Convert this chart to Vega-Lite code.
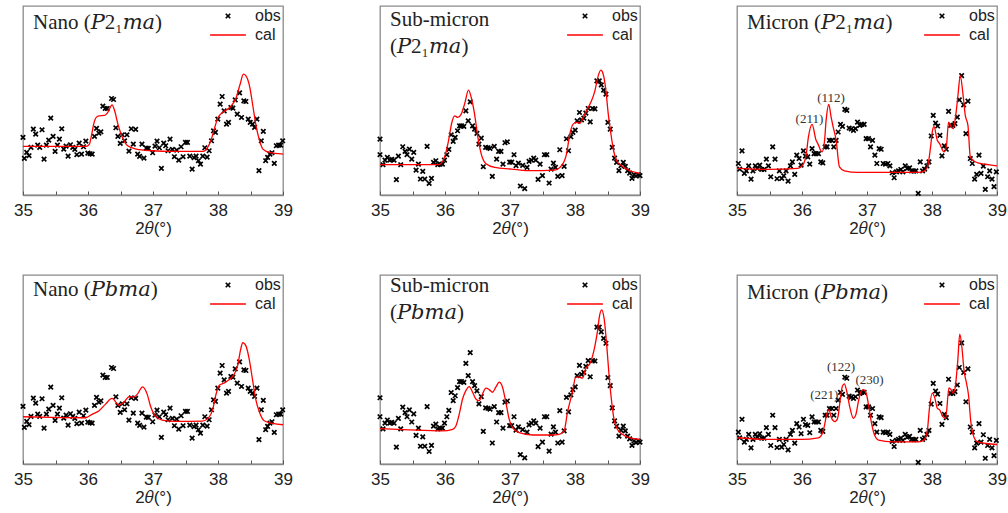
{
"$schema": "https://vega.github.io/schema/vega-lite/v6.json",
"background": "white",
"padding": {"left": 12, "top": 5, "right": 5, "bottom": 5},
"config": {
 "view": {"stroke": "#8a8a8a", "strokeWidth": 1.3},
 "font": "Liberation Sans",
 "axisX": {"tickSize": -4, "tickColor": "#555", "domainColor": "#8a8a8a", "domainWidth": 1.3, "labelFont": "Liberation Sans", "labelFontSize": 17, "labelColor": "#222", "labelPadding": 11, "titleFont": "Liberation Sans", "titleFontSize": 17, "titleFontWeight": "normal", "titleColor": "#222", "titlePadding": 2, "grid": false, "labelFlush": false, "labelOverlap": false},
 "legend": {"orient": "top-right", "offset": 2, "padding": 0, "labelFont": "Liberation Sans", "labelFontSize": 16, "labelColor": "#222", "rowPadding": 4, "symbolSize": 20, "symbolStrokeWidth": 1.7, "labelOffset": 19, "layout": {"direction": "vertical", "margin": 3, "top-right": {"direction": "vertical", "margin": 3}}},
 "title": {"anchor": "start", "frame": "group", "font": "Liberation Serif, DejaVu Serif", "fontSize": 21, "fontWeight": "normal", "color": "#222", "dx": 10, "lineHeight": 27}
},
"datasets": {
 "obsNano": [{"t":35.000,"I":173},{"t":35.021,"I":110},{"t":35.057,"I":128},{"t":35.093,"I":118},{"t":35.123,"I":143},{"t":35.159,"I":198},{"t":35.195,"I":183},{"t":35.226,"I":150},{"t":35.257,"I":143},{"t":35.293,"I":196},{"t":35.324,"I":108},{"t":35.360,"I":150},{"t":35.396,"I":165},{"t":35.427,"I":231},{"t":35.463,"I":176},{"t":35.494,"I":131},{"t":35.530,"I":150},{"t":35.560,"I":168},{"t":35.596,"I":199},{"t":35.627,"I":138},{"t":35.663,"I":147},{"t":35.694,"I":117},{"t":35.730,"I":151},{"t":35.766,"I":143},{"t":35.797,"I":137},{"t":35.828,"I":121},{"t":35.864,"I":156},{"t":35.900,"I":123},{"t":35.931,"I":145},{"t":35.967,"I":162},{"t":35.997,"I":126},{"t":36.033,"I":124},{"t":36.064,"I":123},{"t":36.100,"I":176},{"t":36.131,"I":200},{"t":36.167,"I":186},{"t":36.198,"I":190},{"t":36.229,"I":267},{"t":36.265,"I":260},{"t":36.296,"I":260},{"t":36.362,"I":290},{"t":36.393,"I":287},{"t":36.429,"I":202},{"t":36.460,"I":176},{"t":36.496,"I":155},{"t":36.527,"I":181},{"t":36.563,"I":163},{"t":36.599,"I":181},{"t":36.630,"I":132},{"t":36.666,"I":199},{"t":36.697,"I":153},{"t":36.733,"I":197},{"t":36.764,"I":123},{"t":36.794,"I":116},{"t":36.830,"I":153},{"t":36.861,"I":111},{"t":36.897,"I":141},{"t":36.928,"I":140},{"t":36.995,"I":127},{"t":37.031,"I":147},{"t":37.062,"I":162},{"t":37.098,"I":142},{"t":37.129,"I":80},{"t":37.165,"I":156},{"t":37.195,"I":148},{"t":37.231,"I":133},{"t":37.262,"I":168},{"t":37.298,"I":137},{"t":37.329,"I":115},{"t":37.365,"I":135},{"t":37.396,"I":105},{"t":37.432,"I":145},{"t":37.463,"I":115},{"t":37.499,"I":158},{"t":37.530,"I":158},{"t":37.566,"I":117},{"t":37.602,"I":78},{"t":37.632,"I":112},{"t":37.663,"I":117},{"t":37.699,"I":103},{"t":37.730,"I":93},{"t":37.766,"I":117},{"t":37.797,"I":142},{"t":37.833,"I":114},{"t":37.864,"I":133},{"t":37.900,"I":163},{"t":37.931,"I":193},{"t":37.961,"I":188},{"t":37.997,"I":228},{"t":38.033,"I":273},{"t":38.064,"I":296},{"t":38.095,"I":253},{"t":38.131,"I":213},{"t":38.162,"I":218},{"t":38.198,"I":263},{"t":38.229,"I":261},{"t":38.265,"I":286},{"t":38.296,"I":243},{"t":38.332,"I":307},{"t":38.362,"I":233},{"t":38.398,"I":283},{"t":38.429,"I":281},{"t":38.465,"I":228},{"t":38.496,"I":218},{"t":38.532,"I":213},{"t":38.563,"I":203},{"t":38.599,"I":228},{"t":38.630,"I":73},{"t":38.666,"I":163},{"t":38.697,"I":191},{"t":38.733,"I":103},{"t":38.763,"I":113},{"t":38.799,"I":123},{"t":38.830,"I":127},{"t":38.866,"I":95},{"t":38.897,"I":148},{"t":38.933,"I":150},{"t":38.964,"I":150},{"t":38.995,"I":163}],
 "obsSub": [{"t":35.000,"I":168},{"t":35.000,"I":121},{"t":35.046,"I":91},{"t":35.077,"I":105},{"t":35.113,"I":113},{"t":35.149,"I":105},{"t":35.180,"I":107},{"t":35.216,"I":105},{"t":35.252,"I":46},{"t":35.283,"I":117},{"t":35.319,"I":91},{"t":35.350,"I":145},{"t":35.386,"I":131},{"t":35.416,"I":121},{"t":35.452,"I":138},{"t":35.488,"I":108},{"t":35.519,"I":128},{"t":35.555,"I":75},{"t":35.591,"I":93},{"t":35.622,"I":48},{"t":35.658,"I":71},{"t":35.689,"I":48},{"t":35.725,"I":146},{"t":35.756,"I":35},{"t":35.792,"I":50},{"t":35.823,"I":98},{"t":35.859,"I":103},{"t":35.889,"I":91},{"t":35.925,"I":93},{"t":35.961,"I":93},{"t":35.992,"I":105},{"t":36.028,"I":121},{"t":36.059,"I":137},{"t":36.095,"I":181},{"t":36.126,"I":161},{"t":36.157,"I":173},{"t":36.193,"I":193},{"t":36.224,"I":208},{"t":36.254,"I":208},{"t":36.290,"I":206},{"t":36.321,"I":253},{"t":36.357,"I":223},{"t":36.388,"I":280},{"t":36.424,"I":208},{"t":36.455,"I":198},{"t":36.491,"I":185},{"t":36.522,"I":153},{"t":36.558,"I":171},{"t":36.589,"I":85},{"t":36.625,"I":143},{"t":36.661,"I":142},{"t":36.692,"I":140},{"t":36.728,"I":56},{"t":36.758,"I":146},{"t":36.794,"I":108},{"t":36.825,"I":131},{"t":36.861,"I":131},{"t":36.892,"I":93},{"t":36.923,"I":157},{"t":36.959,"I":160},{"t":36.995,"I":99},{"t":37.026,"I":99},{"t":37.062,"I":121},{"t":37.093,"I":88},{"t":37.129,"I":96},{"t":37.159,"I":27},{"t":37.195,"I":89},{"t":37.226,"I":19},{"t":37.262,"I":83},{"t":37.293,"I":101},{"t":37.329,"I":105},{"t":37.365,"I":111},{"t":37.396,"I":105},{"t":37.432,"I":47},{"t":37.463,"I":93},{"t":37.499,"I":58},{"t":37.530,"I":121},{"t":37.566,"I":121},{"t":37.602,"I":36},{"t":37.632,"I":78},{"t":37.668,"I":96},{"t":37.699,"I":83},{"t":37.735,"I":56},{"t":37.766,"I":136},{"t":37.802,"I":58},{"t":37.833,"I":86},{"t":37.869,"I":169},{"t":37.900,"I":133},{"t":37.936,"I":175},{"t":37.967,"I":188},{"t":38.003,"I":195},{"t":38.033,"I":223},{"t":38.069,"I":248},{"t":38.100,"I":226},{"t":38.136,"I":231},{"t":38.167,"I":246},{"t":38.203,"I":260},{"t":38.234,"I":220},{"t":38.270,"I":260},{"t":38.306,"I":259},{"t":38.337,"I":343},{"t":38.373,"I":343},{"t":38.404,"I":331},{"t":38.440,"I":315},{"t":38.476,"I":303},{"t":38.506,"I":218},{"t":38.542,"I":198},{"t":38.573,"I":143},{"t":38.609,"I":111},{"t":38.640,"I":98},{"t":38.676,"I":73},{"t":38.707,"I":88},{"t":38.743,"I":98},{"t":38.774,"I":86},{"t":38.810,"I":73},{"t":38.841,"I":66},{"t":38.877,"I":50},{"t":38.907,"I":61},{"t":38.938,"I":57},{"t":38.974,"I":61},{"t":39.000,"I":58}],
 "obsMic": [{"t":35.021,"I":95},{"t":35.041,"I":78},{"t":35.077,"I":133},{"t":35.113,"I":65},{"t":35.144,"I":73},{"t":35.180,"I":88},{"t":35.216,"I":48},{"t":35.246,"I":73},{"t":35.282,"I":88},{"t":35.313,"I":80},{"t":35.349,"I":90},{"t":35.380,"I":77},{"t":35.416,"I":77},{"t":35.452,"I":108},{"t":35.483,"I":88},{"t":35.519,"I":55},{"t":35.549,"I":145},{"t":35.585,"I":108},{"t":35.616,"I":49},{"t":35.652,"I":73},{"t":35.688,"I":50},{"t":35.719,"I":58},{"t":35.755,"I":73},{"t":35.786,"I":42},{"t":35.822,"I":88},{"t":35.852,"I":100},{"t":35.888,"I":62},{"t":35.919,"I":120},{"t":35.955,"I":110},{"t":35.986,"I":90},{"t":36.022,"I":133},{"t":36.053,"I":117},{"t":36.089,"I":115},{"t":36.119,"I":93},{"t":36.155,"I":140},{"t":36.186,"I":125},{"t":36.217,"I":125},{"t":36.253,"I":125},{"t":36.289,"I":100},{"t":36.320,"I":97},{"t":36.356,"I":145},{"t":36.386,"I":145},{"t":36.422,"I":165},{"t":36.458,"I":165},{"t":36.489,"I":145},{"t":36.525,"I":165},{"t":36.556,"I":190},{"t":36.592,"I":213},{"t":36.623,"I":207},{"t":36.659,"I":258},{"t":36.689,"I":255},{"t":36.725,"I":202},{"t":36.756,"I":199},{"t":36.792,"I":195},{"t":36.823,"I":200},{"t":36.854,"I":220},{"t":36.890,"I":210},{"t":36.920,"I":213},{"t":36.956,"I":213},{"t":36.987,"I":170},{"t":37.023,"I":170},{"t":37.054,"I":145},{"t":37.085,"I":165},{"t":37.121,"I":120},{"t":37.151,"I":95},{"t":37.187,"I":140},{"t":37.218,"I":138},{"t":37.249,"I":95},{"t":37.285,"I":93},{"t":37.321,"I":95},{"t":37.352,"I":88},{"t":37.388,"I":67},{"t":37.418,"I":52},{"t":37.454,"I":70},{"t":37.485,"I":73},{"t":37.521,"I":77},{"t":37.552,"I":70},{"t":37.588,"I":88},{"t":37.619,"I":80},{"t":37.655,"I":82},{"t":37.685,"I":73},{"t":37.721,"I":72},{"t":37.752,"I":73},{"t":37.788,"I":5},{"t":37.819,"I":100},{"t":37.855,"I":73},{"t":37.886,"I":78},{"t":37.922,"I":88},{"t":37.953,"I":100},{"t":37.988,"I":178},{"t":38.019,"I":240},{"t":38.055,"I":217},{"t":38.086,"I":208},{"t":38.122,"I":180},{"t":38.153,"I":118},{"t":38.189,"I":148},{"t":38.220,"I":138},{"t":38.255,"I":252},{"t":38.286,"I":210},{"t":38.322,"I":210},{"t":38.353,"I":215},{"t":38.389,"I":235},{"t":38.420,"I":287},{"t":38.456,"I":360},{"t":38.487,"I":272},{"t":38.522,"I":185},{"t":38.553,"I":283},{"t":38.589,"I":110},{"t":38.620,"I":95},{"t":38.656,"I":48},{"t":38.687,"I":62},{"t":38.723,"I":120},{"t":38.754,"I":65},{"t":38.790,"I":87},{"t":38.820,"I":17},{"t":38.856,"I":55},{"t":38.887,"I":73},{"t":38.923,"I":48},{"t":38.954,"I":25},{"t":38.990,"I":70}],
 "calNanoP": [{"t":35.0,"I":146},{"t":35.5,"I":146},{"t":35.97,"I":146},{"t":36.02,"I":152},{"t":36.05,"I":175},{"t":36.09,"I":215},{"t":36.13,"I":234},{"t":36.17,"I":238},{"t":36.25,"I":239},{"t":36.31,"I":250},{"t":36.37,"I":271},{"t":36.41,"I":253},{"t":36.46,"I":213},{"t":36.53,"I":173},{"t":36.61,"I":148},{"t":36.74,"I":138},{"t":37.0,"I":133},{"t":37.25,"I":131},{"t":37.77,"I":131},{"t":37.84,"I":143},{"t":37.89,"I":163},{"t":37.95,"I":203},{"t":38.0,"I":233},{"t":38.07,"I":248},{"t":38.18,"I":263},{"t":38.28,"I":293},{"t":38.34,"I":333},{"t":38.39,"I":363},{"t":38.43,"I":358},{"t":38.49,"I":323},{"t":38.54,"I":263},{"t":38.59,"I":203},{"t":38.64,"I":163},{"t":38.69,"I":138},{"t":38.79,"I":128},{"t":39.0,"I":123}],
 "calNanoB": [{"t":35.0,"I":142},{"t":35.45,"I":140},{"t":35.96,"I":139},{"t":36.07,"I":150},{"t":36.17,"I":160},{"t":36.27,"I":180},{"t":36.37,"I":197},{"t":36.48,"I":177},{"t":36.55,"I":185},{"t":36.63,"I":202},{"t":36.71,"I":202},{"t":36.76,"I":210},{"t":36.84,"I":232},{"t":36.91,"I":210},{"t":36.96,"I":175},{"t":37.04,"I":143},{"t":37.14,"I":132},{"t":37.35,"I":128},{"t":37.76,"I":129},{"t":37.86,"I":140},{"t":37.92,"I":165},{"t":37.97,"I":210},{"t":38.02,"I":237},{"t":38.09,"I":243},{"t":38.17,"I":253},{"t":38.25,"I":270},{"t":38.30,"I":295},{"t":38.35,"I":345},{"t":38.38,"I":365},{"t":38.43,"I":355},{"t":38.48,"I":315},{"t":38.53,"I":255},{"t":38.58,"I":195},{"t":38.63,"I":160},{"t":38.71,"I":130},{"t":38.84,"I":122},{"t":39.0,"I":118}],
 "calSubP": [{"t":35.0,"I":91},{"t":35.478,"I":91},{"t":35.889,"I":91},{"t":35.941,"I":95},{"t":35.992,"I":113},{"t":36.054,"I":163},{"t":36.105,"I":218},{"t":36.147,"I":238},{"t":36.198,"I":233},{"t":36.249,"I":243},{"t":36.301,"I":273},{"t":36.362,"I":315},{"t":36.404,"I":293},{"t":36.455,"I":243},{"t":36.506,"I":173},{"t":36.558,"I":123},{"t":36.635,"I":93},{"t":36.763,"I":83},{"t":37.021,"I":78},{"t":37.278,"I":73},{"t":37.689,"I":75},{"t":37.792,"I":88},{"t":37.869,"I":123},{"t":37.920,"I":183},{"t":37.972,"I":213},{"t":38.023,"I":218},{"t":38.075,"I":215},{"t":38.126,"I":233},{"t":38.203,"I":263},{"t":38.254,"I":283},{"t":38.306,"I":313},{"t":38.357,"I":358},{"t":38.398,"I":375},{"t":38.434,"I":363},{"t":38.476,"I":313},{"t":38.512,"I":243},{"t":38.553,"I":183},{"t":38.594,"I":133},{"t":38.640,"I":103},{"t":38.717,"I":88},{"t":38.820,"I":75},{"t":39.0,"I":65}],
 "calSubB": [{"t":35.0,"I":91.7},{"t":35.451,"I":88.3},{"t":35.963,"I":85.8},{"t":36.117,"I":90},{"t":36.168,"I":98.3},{"t":36.219,"I":127.5},{"t":36.270,"I":165},{"t":36.321,"I":185.8},{"t":36.373,"I":195.8},{"t":36.424,"I":181.7},{"t":36.475,"I":165},{"t":36.526,"I":160.8},{"t":36.577,"I":177.5},{"t":36.629,"I":191.7},{"t":36.680,"I":188.3},{"t":36.731,"I":181.7},{"t":36.782,"I":194.2},{"t":36.834,"I":206.7},{"t":36.885,"I":194.2},{"t":36.936,"I":156.7},{"t":36.987,"I":115},{"t":37.038,"I":94.2},{"t":37.141,"I":81.7},{"t":37.346,"I":75.8},{"t":37.653,"I":75.8},{"t":37.755,"I":77.5},{"t":37.832,"I":85.8},{"t":37.884,"I":131.7},{"t":37.960,"I":181.7},{"t":38.012,"I":219.2},{"t":38.063,"I":219.2},{"t":38.114,"I":216.7},{"t":38.165,"I":240},{"t":38.242,"I":256.7},{"t":38.293,"I":285.8},{"t":38.345,"I":331.7},{"t":38.380,"I":373.3},{"t":38.411,"I":385.8},{"t":38.447,"I":365},{"t":38.488,"I":298.3},{"t":38.524,"I":223.3},{"t":38.565,"I":156.7},{"t":38.600,"I":115},{"t":38.652,"I":90},{"t":38.729,"I":77.5},{"t":38.831,"I":69.2},{"t":39.0,"I":65}],
 "calMicP": [{"t":35.0,"I":80},{"t":35.472,"I":77},{"t":35.935,"I":80},{"t":36.012,"I":90},{"t":36.063,"I":120},{"t":36.099,"I":175},{"t":36.155,"I":213},{"t":36.217,"I":165},{"t":36.243,"I":155},{"t":36.309,"I":130},{"t":36.345,"I":160},{"t":36.371,"I":225},{"t":36.412,"I":273},{"t":36.448,"I":235},{"t":36.474,"I":210},{"t":36.525,"I":165},{"t":36.576,"I":85},{"t":36.653,"I":73},{"t":36.859,"I":68},{"t":37.270,"I":68},{"t":37.783,"I":68},{"t":37.886,"I":73},{"t":37.937,"I":90},{"t":37.978,"I":145},{"t":38.004,"I":190},{"t":38.030,"I":207},{"t":38.081,"I":165},{"t":38.117,"I":155},{"t":38.184,"I":130},{"t":38.220,"I":145},{"t":38.255,"I":220},{"t":38.297,"I":205},{"t":38.327,"I":200},{"t":38.368,"I":245},{"t":38.399,"I":300},{"t":38.435,"I":360},{"t":38.476,"I":305},{"t":38.512,"I":240},{"t":38.553,"I":210},{"t":38.589,"I":115},{"t":38.630,"I":105},{"t":38.707,"I":97},{"t":38.810,"I":93},{"t":39.0,"I":88}],
 "calMicB": [{"t":35.0,"I":78},{"t":35.475,"I":73},{"t":35.991,"I":73},{"t":36.249,"I":78},{"t":36.301,"I":86},{"t":36.342,"I":111},{"t":36.378,"I":146},{"t":36.414,"I":161},{"t":36.455,"I":136},{"t":36.507,"I":126},{"t":36.548,"I":136},{"t":36.585,"I":186},{"t":36.621,"I":231},{"t":36.652,"I":238},{"t":36.688,"I":216},{"t":36.739,"I":166},{"t":36.791,"I":136},{"t":36.827,"I":146},{"t":36.868,"I":186},{"t":36.910,"I":216},{"t":36.946,"I":221},{"t":36.987,"I":211},{"t":37.023,"I":176},{"t":37.065,"I":126},{"t":37.116,"I":86},{"t":37.178,"I":71},{"t":37.385,"I":66},{"t":37.797,"I":66},{"t":37.875,"I":71},{"t":37.926,"I":96},{"t":37.961,"I":166},{"t":38.003,"I":211},{"t":38.044,"I":196},{"t":38.081,"I":166},{"t":38.117,"I":161},{"t":38.168,"I":141},{"t":38.210,"I":136},{"t":38.261,"I":226},{"t":38.293,"I":221},{"t":38.324,"I":211},{"t":38.355,"I":226},{"t":38.396,"I":306},{"t":38.427,"I":386},{"t":38.458,"I":351},{"t":38.494,"I":276},{"t":38.530,"I":241},{"t":38.561,"I":206},{"t":38.597,"I":126},{"t":38.634,"I":86},{"t":38.701,"I":66},{"t":38.830,"I":61},{"t":39.0,"I":58}],
 "annMicP": [{"t":36.114,"I":230,"label":"(211)"},{"t":36.448,"I":292,"label":"(112)"}],
 "annMicB": [{"t":36.342,"I":206,"label":"(221)"},{"t":36.600,"I":288,"label":"(122)"},{"t":37.039,"I":251,"label":"(230)"}]
},
"columns": 3,
"spacing": {"row": 80, "column": 97},
"bounds": "flush",
"resolve": {"scale": {"y": "independent", "color": "independent", "stroke": "independent"}, "legend": {"color": "independent", "stroke": "independent"}},
"concat": [
 {"width": 260, "height": 189, "title": {"text": "Nano (𝑃2₁𝑚𝑎)", "offset": -27},
  "encoding": {"x": {"field": "t", "type": "quantitative", "scale": {"domain": [35, 39], "nice": false}, "axis": {"values": [35,35.5,36,36.5,37,37.5,38,38.5,39], "labelExpr": "datum.value % 1 == 0 ? format(datum.value, 'd') : ''", "title": "2𝜃(°)"}}, "y": {"field": "I", "type": "quantitative", "scale": {"domain": [0, 568], "nice": false, "zero": false}, "axis": null}},
  "layer": [
   {"data": {"name": "obsNano"}, "mark": {"type": "point", "shape": "M-1,-1L1,1M-1,1L1,-1", "filled": false, "size": 20, "strokeWidth": 1.7, "opacity": 1}, "encoding": {"color": {"datum": "obs", "type": "nominal", "scale": {"domain": ["obs"], "range": ["#000000"]}, "legend": {"title": null}}}},
   {"data": {"name": "calNanoP"}, "mark": {"type": "line", "interpolate": "monotone", "strokeWidth": 1.3}, "encoding": {"stroke": {"datum": "cal", "type": "nominal", "scale": {"domain": ["cal"], "range": ["#ff0000"]}, "legend": {"title": null, "symbolType": "M-8,0L8,0", "symbolStrokeWidth": 1.4}}}}
  ]},
 {"width": 260, "height": 189, "title": {"text": ["Sub-micron", "(𝑃2₁𝑚𝑎)"], "offset": -51},
  "encoding": {"x": {"field": "t", "type": "quantitative", "scale": {"domain": [35, 39], "nice": false}, "axis": {"values": [35,35.5,36,36.5,37,37.5,38,38.5,39], "labelExpr": "datum.value % 1 == 0 ? format(datum.value, 'd') : ''", "title": "2𝜃(°)"}}, "y": {"field": "I", "type": "quantitative", "scale": {"domain": [0, 568], "nice": false, "zero": false}, "axis": null}},
  "layer": [
   {"data": {"name": "obsSub"}, "mark": {"type": "point", "shape": "M-1,-1L1,1M-1,1L1,-1", "filled": false, "size": 20, "strokeWidth": 1.7, "opacity": 1}, "encoding": {"color": {"datum": "obs", "type": "nominal", "scale": {"domain": ["obs"], "range": ["#000000"]}, "legend": {"title": null}}}},
   {"data": {"name": "calSubP"}, "mark": {"type": "line", "interpolate": "monotone", "strokeWidth": 1.3}, "encoding": {"stroke": {"datum": "cal", "type": "nominal", "scale": {"domain": ["cal"], "range": ["#ff0000"]}, "legend": {"title": null, "symbolType": "M-8,0L8,0", "symbolStrokeWidth": 1.4}}}}
  ]},
 {"width": 260, "height": 189, "title": {"text": "Micron (𝑃2₁𝑚𝑎)", "offset": -27},
  "encoding": {"x": {"field": "t", "type": "quantitative", "scale": {"domain": [35, 39], "nice": false}, "axis": {"values": [35,35.5,36,36.5,37,37.5,38,38.5,39], "labelExpr": "datum.value % 1 == 0 ? format(datum.value, 'd') : ''", "title": "2𝜃(°)"}}, "y": {"field": "I", "type": "quantitative", "scale": {"domain": [0, 570], "nice": false, "zero": false}, "axis": null}},
  "layer": [
   {"data": {"name": "obsMic"}, "mark": {"type": "point", "shape": "M-1,-1L1,1M-1,1L1,-1", "filled": false, "size": 20, "strokeWidth": 1.7, "opacity": 1}, "encoding": {"color": {"datum": "obs", "type": "nominal", "scale": {"domain": ["obs"], "range": ["#000000"]}, "legend": {"title": null}}}},
   {"data": {"name": "calMicP"}, "mark": {"type": "line", "interpolate": "monotone", "strokeWidth": 1.3}, "encoding": {"stroke": {"datum": "cal", "type": "nominal", "scale": {"domain": ["cal"], "range": ["#ff0000"]}, "legend": {"title": null, "symbolType": "M-8,0L8,0", "symbolStrokeWidth": 1.4}}}},
   {"data": {"name": "annMicP"}, "mark": {"type": "text", "font": "Liberation Serif", "fontSize": 13, "color": "#333", "baseline": "middle", "align": "center"}, "encoding": {"text": {"field": "label"}}}
  ]},
 {"width": 260, "height": 189, "title": {"text": "Nano (𝑃𝑏𝑚𝑎)", "offset": -25},
  "encoding": {"x": {"field": "t", "type": "quantitative", "scale": {"domain": [35, 39], "nice": false}, "axis": {"values": [35,35.5,36,36.5,37,37.5,38,38.5,39], "labelExpr": "datum.value % 1 == 0 ? format(datum.value, 'd') : ''", "title": "2𝜃(°)"}}, "y": {"field": "I", "type": "quantitative", "scale": {"domain": [0, 568], "nice": false, "zero": false}, "axis": null}},
  "layer": [
   {"data": {"name": "obsNano"}, "mark": {"type": "point", "shape": "M-1,-1L1,1M-1,1L1,-1", "filled": false, "size": 20, "strokeWidth": 1.7, "opacity": 1}, "encoding": {"color": {"datum": "obs", "type": "nominal", "scale": {"domain": ["obs"], "range": ["#000000"]}, "legend": {"title": null}}}},
   {"data": {"name": "calNanoB"}, "mark": {"type": "line", "interpolate": "monotone", "strokeWidth": 1.3}, "encoding": {"stroke": {"datum": "cal", "type": "nominal", "scale": {"domain": ["cal"], "range": ["#ff0000"]}, "legend": {"title": null, "symbolType": "M-8,0L8,0", "symbolStrokeWidth": 1.4}}}}
  ]},
 {"width": 260, "height": 189, "title": {"text": ["Sub-micron", "(𝑃𝑏𝑚𝑎)"], "offset": -48},
  "encoding": {"x": {"field": "t", "type": "quantitative", "scale": {"domain": [35, 39], "nice": false}, "axis": {"values": [35,35.5,36,36.5,37,37.5,38,38.5,39], "labelExpr": "datum.value % 1 == 0 ? format(datum.value, 'd') : ''", "title": "2𝜃(°)"}}, "y": {"field": "I", "type": "quantitative", "scale": {"domain": [4, 472], "nice": false, "zero": false}, "axis": null}},
  "layer": [
   {"data": {"name": "obsSub"}, "mark": {"type": "point", "shape": "M-1,-1L1,1M-1,1L1,-1", "filled": false, "size": 20, "strokeWidth": 1.7, "opacity": 1}, "encoding": {"color": {"datum": "obs", "type": "nominal", "scale": {"domain": ["obs"], "range": ["#000000"]}, "legend": {"title": null}}}},
   {"data": {"name": "calSubB"}, "mark": {"type": "line", "interpolate": "monotone", "strokeWidth": 1.3}, "encoding": {"stroke": {"datum": "cal", "type": "nominal", "scale": {"domain": ["cal"], "range": ["#ff0000"]}, "legend": {"title": null, "symbolType": "M-8,0L8,0", "symbolStrokeWidth": 1.4}}}}
  ]},
 {"width": 260, "height": 189, "title": {"text": "Micron (𝑃𝑏𝑚𝑎)", "offset": -28},
  "encoding": {"x": {"field": "t", "type": "quantitative", "scale": {"domain": [35, 39], "nice": false}, "axis": {"values": [35,35.5,36,36.5,37,37.5,38,38.5,39], "labelExpr": "datum.value % 1 == 0 ? format(datum.value, 'd') : ''", "title": "2𝜃(°)"}}, "y": {"field": "I", "type": "quantitative", "scale": {"domain": [0, 562], "nice": false, "zero": false}, "axis": null}},
  "layer": [
   {"data": {"name": "obsMic"}, "mark": {"type": "point", "shape": "M-1,-1L1,1M-1,1L1,-1", "filled": false, "size": 20, "strokeWidth": 1.7, "opacity": 1}, "encoding": {"color": {"datum": "obs", "type": "nominal", "scale": {"domain": ["obs"], "range": ["#000000"]}, "legend": {"title": null}}}},
   {"data": {"name": "calMicB"}, "mark": {"type": "line", "interpolate": "monotone", "strokeWidth": 1.3}, "encoding": {"stroke": {"datum": "cal", "type": "nominal", "scale": {"domain": ["cal"], "range": ["#ff0000"]}, "legend": {"title": null, "symbolType": "M-8,0L8,0", "symbolStrokeWidth": 1.4}}}},
   {"data": {"name": "annMicB"}, "mark": {"type": "text", "font": "Liberation Serif", "fontSize": 13, "color": "#333", "baseline": "middle", "align": "center"}, "encoding": {"text": {"field": "label"}}}
  ]}
]
}
